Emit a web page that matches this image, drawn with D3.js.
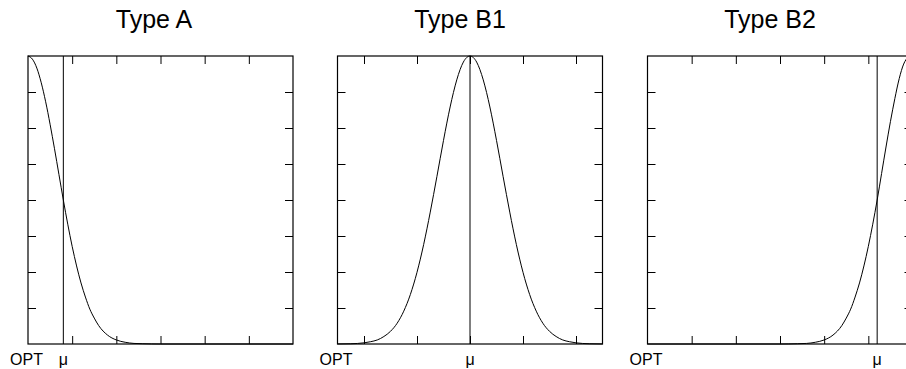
<!DOCTYPE html>
<html>
<head>
<meta charset="utf-8">
<script src="https://cdn.jsdelivr.net/npm/d3@7"></script>
<style>
  html, body { margin: 0; padding: 0; background: #fff; }
  svg { display: block; }
  text { font-family: "Liberation Sans", Arial, Helvetica, sans-serif; fill: #000; }
</style>
</head>
<body>
<script>
// ---------- data ----------
const panelTitles = ["Type A", "Type B1", "Type B2"];

// x domains of each panel and their tick values
const xDomains = [[0, 6], [-5, 5], [0, 6]];
const xTickValues = [[1, 2, 3, 4, 5], [-4, -2, 0, 2, 4], [1, 2, 3, 4, 5]];
const yTickValues = [0.125, 0.25, 0.375, 0.5, 0.625, 0.75, 0.875];

// mu position (vertical line) in each panel
const muValues = [0.8, 0, 5.2];

// bottom labels: OPT at the left edge, mu at the vertical line
const optLabel = "OPT";
const muLabel = "\u03bc";

// Curve Type A
const xA = [0, 0.1, 0.2, 0.3, 0.4, 0.5, 0.6, 0.7, 0.8, 0.9, 1.0, 1.1, 1.2, 1.3, 1.4, 1.5, 1.6, 1.8, 2.0, 2.2, 2.4, 2.6, 2.8, 3.0, 4.0, 5.0, 6.0];
const yA = [1, 0.989, 0.958, 0.907, 0.841, 0.763, 0.678, 0.589, 0.500, 0.416, 0.339, 0.271, 0.212, 0.163, 0.121, 0.090, 0.064, 0.031, 0.014, 0.006, 0.002, 0.001, 0.0003, 0, 0, 0, 0];

// Curve Type B1
const xB1 = [-5, -4.5, -4, -3.75, -3.5, -3.25, -3, -2.75, -2.5, -2.25, -2, -1.75, -1.5, -1.25, -1, -0.75, -0.5, -0.25, 0,
             0.25, 0.5, 0.75, 1, 1.25, 1.5, 1.75, 2, 2.25, 2.5, 2.75, 3, 3.25, 3.5, 3.75, 4, 4.5, 5];
const yB1 = [0.0002, 0.0009, 0.004, 0.008, 0.014, 0.026, 0.044, 0.072, 0.114, 0.172, 0.249, 0.345, 0.458, 0.581, 0.707, 0.823, 0.917, 0.979, 1,
             0.979, 0.917, 0.823, 0.707, 0.581, 0.458, 0.345, 0.249, 0.172, 0.114, 0.072, 0.044, 0.026, 0.014, 0.008, 0.004, 0.0009, 0.0002];

// Curve Type B2
const xB2 = [0, 1, 2, 3.0, 3.2, 3.4, 3.6, 3.8, 4.0, 4.2, 4.4, 4.5, 4.6, 4.7, 4.8, 4.9, 5.0, 5.1, 5.2, 5.3, 5.4, 5.5, 5.6, 5.7, 5.8, 5.9, 6.0];
const yB2 = [0, 0, 0, 0, 0.0003, 0.001, 0.002, 0.006, 0.014, 0.031, 0.064, 0.090, 0.121, 0.163, 0.212, 0.271, 0.339, 0.416, 0.500, 0.592, 0.684, 0.772, 0.852, 0.922, 0.972, 0.995, 1];

const curvesX = [xA, xB1, xB2];
const curvesY = [yA, yB1, yB2];

// ---------- layout ----------
const W = 906, H = 369;
const panelLeft = [28, 337.5, 647.5];
const panelTop = 56;
const pw = 265, ph = 288;
const tickLen = 8;
const titleCenters = [154, 460, 770];
const titleBaseline = 28;

const svg = d3.select("body").append("svg")
  .attr("width", W).attr("height", H)
  .attr("viewBox", `0 0 ${W} ${H}`);

svg.append("rect").attr("width", W).attr("height", H).attr("fill", "#fff");

panelTitles.forEach((title, i) => {
  const g = svg.append("g").attr("transform", `translate(${panelLeft[i]},${panelTop})`);
  const x = d3.scaleLinear().domain(xDomains[i]).range([0, pw]);
  const y = d3.scaleLinear().domain([0, 1]).range([ph, 0]);

  // title
  svg.append("text")
    .attr("x", titleCenters[i])
    .attr("y", titleBaseline)
    .attr("text-anchor", "middle")
    .style("font-size", "25px")
    .text(title);

  // ticks (inward) on all four sides
  const axes = [
    { ax: d3.axisBottom(x).tickValues(xTickValues[i]), t: `translate(0,${ph})` },
    { ax: d3.axisTop(x).tickValues(xTickValues[i]), t: `translate(0,0)` },
    { ax: d3.axisLeft(y).tickValues(yTickValues), t: `translate(0,0)` },
    { ax: d3.axisRight(y).tickValues(yTickValues), t: `translate(${pw},0)` }
  ];
  axes.forEach(a => {
    const ag = g.append("g").attr("transform", a.t)
      .call(a.ax.tickSizeInner(-tickLen).tickSizeOuter(0).tickFormat(""));
    ag.select(".domain").remove();
    ag.selectAll(".tick line").attr("stroke", "#000").attr("stroke-width", 1);
  });

  // mu vertical line
  g.append("line")
    .attr("x1", x(muValues[i])).attr("x2", x(muValues[i]))
    .attr("y1", 0).attr("y2", ph)
    .attr("stroke", "#000").attr("stroke-width", 1);

  // curve
  const pts = curvesX[i].map((v, k) => [v, curvesY[i][k]]);
  g.append("path")
    .datum(pts)
    .attr("fill", "none")
    .attr("stroke", "#000")
    .attr("stroke-width", 1)
    .attr("d", d3.line().x(d => x(d[0])).y(d => y(d[1])).curve(d3.curveMonotoneX));

  // frame
  g.append("rect")
    .attr("x", 0).attr("y", 0).attr("width", pw).attr("height", ph)
    .attr("fill", "none").attr("stroke", "#000").attr("stroke-width", 1.2);

  // bottom labels
  g.append("text")
    .attr("x", x(xDomains[i][0]) - 1.5)
    .attr("y", ph + 21)
    .attr("text-anchor", "middle")
    .style("font-size", "16px")
    .text(optLabel);
  g.append("text")
    .attr("x", x(muValues[i]))
    .attr("y", ph + 21)
    .attr("text-anchor", "middle")
    .style("font-size", "16px")
    .text(muLabel);
});
</script>
</body>
</html>
